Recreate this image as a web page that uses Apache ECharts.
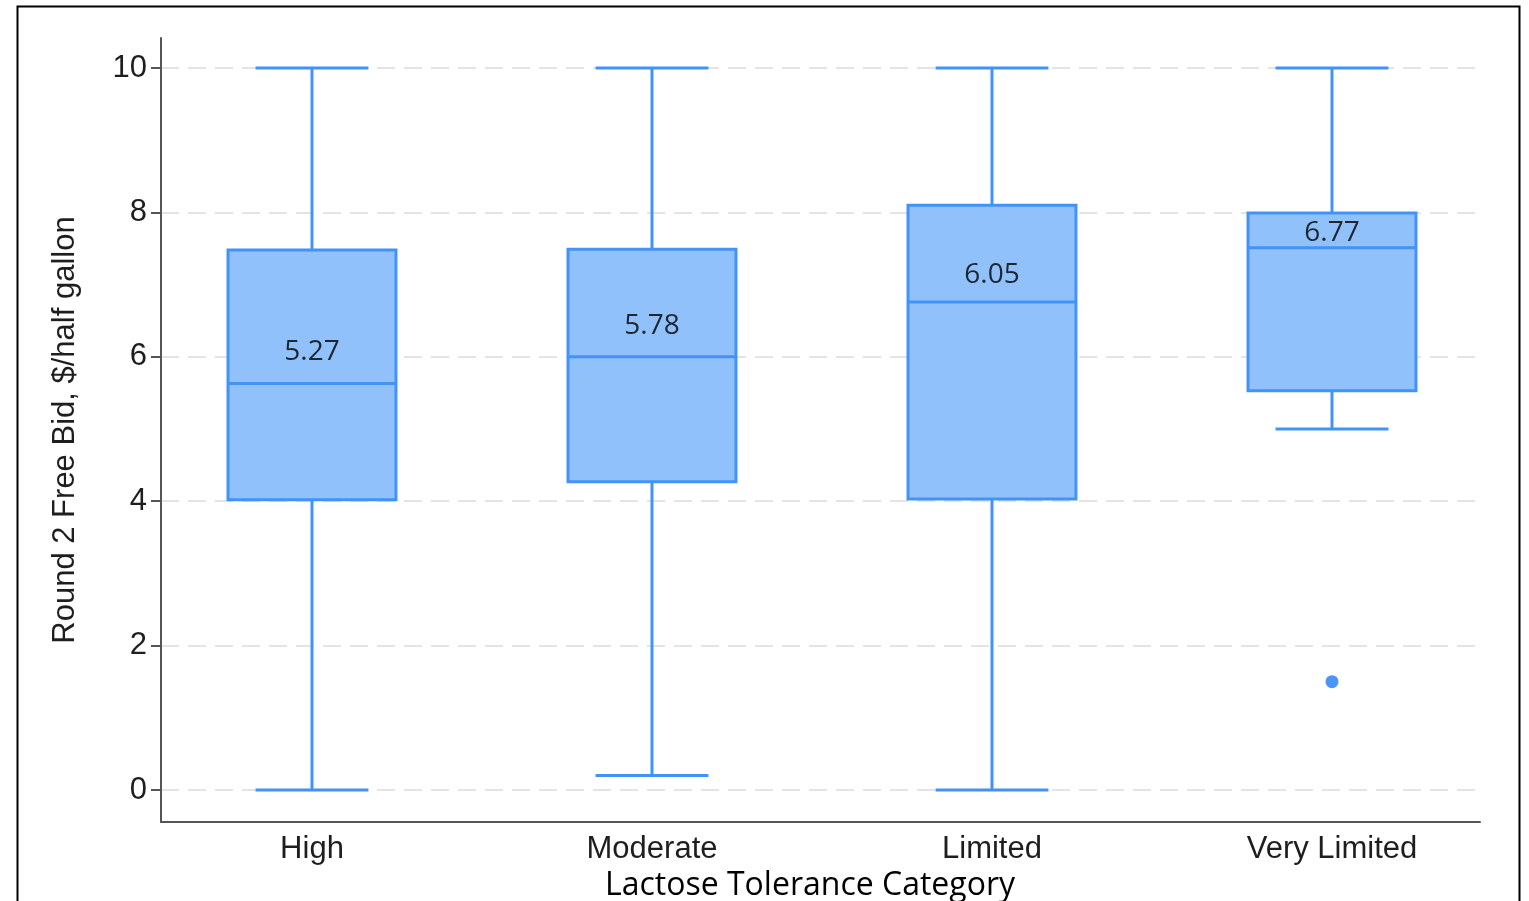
<!DOCTYPE html>
<html>
<head>
<meta charset="utf-8">
<script src="https://cdn.jsdelivr.net/npm/echarts@6/dist/echarts.min.js"></script>
<style>
  html, body { margin: 0; padding: 0; background: #fff; }
  #chart { width: 1529px; height: 901px; }
</style>
</head>
<body>
<div id="chart"></div>
<script>
// Lactose tolerance groups and their bid distributions
const categories = ['High', 'Moderate', 'Limited', 'Very Limited'];
const whiskerLow = [0, 0.2, 0, 5.0];
const q1 = [4.02, 4.27, 4.03, 5.53];
const medians = [5.63, 6.0, 6.76, 7.51];
const q3 = [7.48, 7.49, 8.1, 7.99];
const whiskerHigh = [10, 10, 10, 10];
const means = [5.27, 5.78, 6.05, 6.77];
const meanLabelY = [6.07, 6.43, 7.13, 7.71];
const outliers = [[3, 1.5]];
const yTicks = [0, 2, 4, 6, 8, 10];

const Y_MIN = -0.443, Y_MAX = 10.415;
const STROKE = '#4293f7';
const FILL = '#90c1fb';
const FONT = '"Liberation Sans", Arial, Helvetica, sans-serif';
const NOTE_FONT = '"Open Sans", "Noto Sans", sans-serif';

const boxData = categories.map((c, i) => [i, whiskerLow[i], q1[i], medians[i], q3[i], whiskerHigh[i]]);

function renderBox(params, api) {
  const idx = api.value(0);
  const band = api.size([1, 0])[0];
  const bh = band * 0.247;   // half box width
  const ch = band * 0.166;   // half cap width
  const pLow = api.coord([idx, api.value(1)]);
  const pQ1 = api.coord([idx, api.value(2)]);
  const pMed = api.coord([idx, api.value(3)]);
  const pQ3 = api.coord([idx, api.value(4)]);
  const pHigh = api.coord([idx, api.value(5)]);
  const x = pQ1[0];
  const line = { stroke: STROKE, lineWidth: 3, fill: null };
  return {
    type: 'group',
    children: [
      { type: 'line', shape: { x1: x, y1: pQ3[1], x2: x, y2: pHigh[1] }, style: line },
      { type: 'line', shape: { x1: x, y1: pQ1[1], x2: x, y2: pLow[1] }, style: line },
      { type: 'line', shape: { x1: x - ch, y1: pHigh[1], x2: x + ch, y2: pHigh[1] }, style: line },
      { type: 'line', shape: { x1: x - ch, y1: pLow[1], x2: x + ch, y2: pLow[1] }, style: line },
      { type: 'rect', shape: { x: x - bh, y: pQ3[1], width: bh * 2, height: pQ1[1] - pQ3[1] },
        style: { fill: FILL, stroke: STROKE, lineWidth: 3 } },
      { type: 'line', shape: { x1: x - bh, y1: pMed[1], x2: x + bh, y2: pMed[1] }, style: line }
    ]
  };
}

const chart = echarts.init(document.getElementById('chart'), null, { renderer: 'canvas' });

chart.setOption({
  backgroundColor: '#ffffff',
  animation: false,
  grid: [
    // plotting grid: category bands
    { left: 142, width: 1360, top: 38, height: 784, outerBoundsMode: 'none', containLabel: false },
    // frame grid: visible axes and gridlines
    { left: 161, right: 49, top: 38, height: 784, outerBoundsMode: 'none', containLabel: false }
  ],
  xAxis: [
    {
      type: 'category', gridIndex: 0, data: categories,
      axisLine: { show: false }, axisTick: { show: false },
      axisLabel: { color: '#1e1e1e', fontFamily: FONT, fontSize: 31, margin: 12 },
      name: 'Lactose Tolerance Category', nameLocation: 'middle', nameGap: 44,
      nameTextStyle: { fontFamily: NOTE_FONT, fontSize: 32, color: '#000', padding: [0, 24, 0, 0] }
    },
    {
      type: 'value', gridIndex: 1, min: 0, max: 1,
      axisLine: { show: true, onZero: false, lineStyle: { color: '#555', width: 2 } },
      axisTick: { show: false }, axisLabel: { show: false }, splitLine: { show: false }
    }
  ],
  yAxis: [
    {
      type: 'value', gridIndex: 0, min: Y_MIN, max: Y_MAX, show: false, splitLine: { show: false }
    },
    {
      type: 'value', gridIndex: 1, min: Y_MIN, max: Y_MAX,
      axisLine: { show: true, onZero: false, lineStyle: { color: '#555', width: 2 } },
      axisTick: { show: true, length: 10, customValues: yTicks, lineStyle: { color: '#555', width: 2 } },
      axisLabel: { customValues: yTicks, color: '#1e1e1e', fontFamily: FONT, fontSize: 31, margin: 14 },
      splitLine: { show: true, customValues: yTicks, lineStyle: { color: '#e4e4e4', width: 2, type: [18, 9] } },
      name: 'Round 2 Free Bid, $/half gallon', nameLocation: 'middle', nameRotate: 90, nameGap: 80,
      nameTextStyle: { fontFamily: FONT, fontSize: 31, color: '#1e1e1e' }
    }
  ],
  series: [
    {
      type: 'custom', xAxisIndex: 0, yAxisIndex: 0,
      renderItem: renderBox, data: boxData, z: 3
    },
    {
      type: 'scatter', xAxisIndex: 0, yAxisIndex: 0,
      data: outliers, symbol: 'circle', symbolSize: 13,
      itemStyle: { color: '#1f7af5' }, z: 4
    },
    {
      // mean annotations
      type: 'scatter', xAxisIndex: 0, yAxisIndex: 0,
      data: categories.map((c, i) => [i, meanLabelY[i]]),
      symbolSize: 0, z: 5,
      label: {
        show: true, position: 'inside',
        formatter: p => means[p.dataIndex].toFixed(2),
        fontFamily: NOTE_FONT, fontSize: 28, color: '#000'
      }
    }
  ],
  graphic: [
    {
      type: 'rect', left: 15, top: 4, silent: true,
      shape: { width: 1502, height: 920 },
      style: { fill: null, stroke: '#000', lineWidth: 2 }
    }
  ]
});
</script>
</body>
</html>
